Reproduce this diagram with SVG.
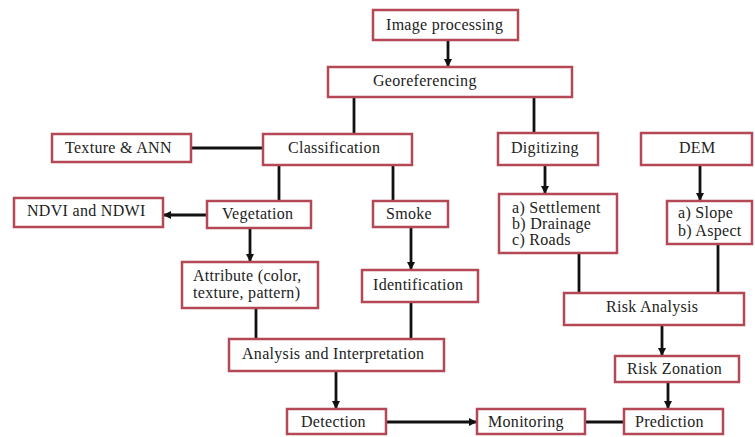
<svg xmlns="http://www.w3.org/2000/svg" width="755" height="437" viewBox="0 0 755 437" font-family="'Liberation Serif', 'DejaVu Serif', serif">
<defs>
<marker id="ah" markerWidth="8" markerHeight="8" refX="7" refY="4" orient="auto" markerUnits="userSpaceOnUse">
<path d="M0,0 L8,4 L0,8 Z" fill="#111"/>
</marker>
</defs>
<style>
.box{fill:#fff;stroke:#b44856;stroke-width:2.5}
text{font-size:16px;fill:#222;letter-spacing:0.3px}
.c{stroke:#111;stroke-width:2.8;fill:none}
.a{stroke:#111;stroke-width:2.8;fill:none;marker-end:url(#ah)}
</style>
<rect width="755" height="437" fill="#fff"/>
<g id="connectors">
<line class="a" x1="448" y1="40" x2="448" y2="66"/>
<line class="c" x1="354" y1="97" x2="354" y2="134"/>
<line class="c" x1="534" y1="97" x2="534" y2="133"/>
<line class="c" x1="191" y1="148" x2="263" y2="148"/>
<line class="c" x1="279" y1="165" x2="279" y2="201"/>
<line class="c" x1="393" y1="165" x2="393" y2="201"/>
<line class="a" x1="207" y1="215" x2="164" y2="215"/>
<line class="a" x1="250" y1="228" x2="250" y2="261"/>
<line class="a" x1="411" y1="227" x2="411" y2="269"/>
<line class="c" x1="256" y1="308" x2="256" y2="339"/>
<line class="c" x1="411" y1="302" x2="411" y2="339"/>
<line class="a" x1="336" y1="371" x2="336" y2="408"/>
<line class="a" x1="386" y1="422" x2="476" y2="422"/>
<line class="c" x1="585" y1="422" x2="624" y2="422"/>
<line class="a" x1="545" y1="165" x2="545" y2="193"/>
<line class="a" x1="700" y1="165" x2="700" y2="200"/>
<line class="c" x1="579" y1="253" x2="579" y2="293"/>
<line class="c" x1="718" y1="244" x2="718" y2="293"/>
<line class="a" x1="662" y1="325" x2="662" y2="355"/>
<line class="a" x1="668" y1="382" x2="668" y2="408"/>
</g>
<g id="image-processing"><rect class="box" x="373" y="10" width="145" height="30"/><text x="386" y="30">Image processing</text></g>
<g id="georeferencing"><rect class="box" x="328" y="67" width="244" height="30"/><text x="373" y="86">Georeferencing</text></g>
<g id="texture-ann"><rect class="box" x="52" y="134" width="139" height="28"/><text x="65" y="153">Texture &amp; ANN</text></g>
<g id="classification"><rect class="box" x="263" y="134" width="149" height="31"/><text x="288" y="153">Classification</text></g>
<g id="digitizing"><rect class="box" x="498" y="133" width="100" height="32"/><text x="511" y="153">Digitizing</text></g>
<g id="dem"><rect class="box" x="641" y="133" width="111" height="32"/><text x="679" y="153">DEM</text></g>
<g id="ndvi-ndwi"><rect class="box" x="14" y="198" width="149" height="29"/><text x="27" y="216">NDVI and NDWI</text></g>
<g id="vegetation"><rect class="box" x="207" y="201" width="104" height="27"/><text x="222" y="219">Vegetation</text></g>
<g id="smoke"><rect class="box" x="373" y="201" width="75" height="26"/><text x="386" y="219">Smoke</text></g>
<g id="settlement"><rect class="box" x="499" y="194" width="118" height="59"/><text x="512" y="213">a) Settlement</text><text x="512" y="229">b) Drainage</text><text x="512" y="245">c) Roads</text></g>
<g id="slope-aspect"><rect class="box" x="667" y="201" width="85" height="43"/><text x="678" y="218">a) Slope</text><text x="678" y="236">b) Aspect</text></g>
<g id="attribute"><rect class="box" x="182" y="262" width="136" height="46"/><text x="193" y="281">Attribute (color,</text><text x="193" y="298">texture, pattern)</text></g>
<g id="identification"><rect class="box" x="362" y="270" width="116" height="32"/><text x="373" y="290">Identification</text></g>
<g id="analysis"><rect class="box" x="229" y="339" width="215" height="32"/><text x="242" y="359">Analysis and Interpretation</text></g>
<g id="risk-analysis"><rect class="box" x="564" y="293" width="180" height="32"/><text x="606" y="312">Risk Analysis</text></g>
<g id="risk-zonation"><rect class="box" x="615" y="356" width="124" height="26"/><text x="627" y="374">Risk Zonation</text></g>
<g id="detection"><rect class="box" x="287" y="409" width="99" height="25"/><text x="301" y="427">Detection</text></g>
<g id="monitoring"><rect class="box" x="477" y="409" width="108" height="25"/><text x="488" y="427">Monitoring</text></g>
<g id="prediction"><rect class="box" x="624" y="409" width="99" height="25"/><text x="635" y="427">Prediction</text></g>
</svg>
